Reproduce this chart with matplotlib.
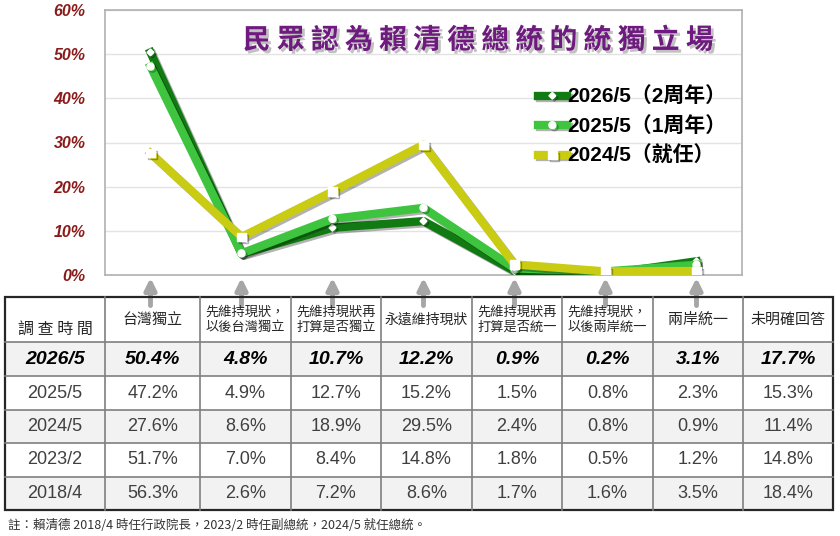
import matplotlib
matplotlib.use('Agg')
import matplotlib.pyplot as plt
import matplotlib.patheffects as pe
from matplotlib.patches import Rectangle

plt.rcParams['font.family'] = ['Liberation Sans', 'Noto Sans CJK TC', 'DejaVu Sans']

# 資料
categories = ['台灣獨立', '先維持現狀，\n以後台灣獨立', '先維持現狀再\n打算是否獨立', '永遠維持現狀',
              '先維持現狀再\n打算是否統一', '先維持現狀，\n以後兩岸統一', '兩岸統一', '未明確回答']
survey_dates = ['2026/5', '2025/5', '2024/5', '2023/2', '2018/4']
table_values = [
    [50.4, 4.8, 10.7, 12.2, 0.9, 0.2, 3.1, 17.7],
    [47.2, 4.9, 12.7, 15.2, 1.5, 0.8, 2.3, 15.3],
    [27.6, 8.6, 18.9, 29.5, 2.4, 0.8, 0.9, 11.4],
    [51.7, 7.0, 8.4, 14.8, 1.8, 0.5, 1.2, 14.8],
    [56.3, 2.6, 7.2, 8.6, 1.7, 1.6, 3.5, 18.4],
]
series_labels = ['2026/5（2周年）', '2025/5（1周年）', '2024/5（就任）']
series_colors = ['#127a12', '#3ec43e', '#c9cc12']
series_markers = ['D', 'o', 's']
marker_sizes = [3.5, 5, 6]
yticks = [0, 10, 20, 30, 40, 50, 60]
title = '民 眾 認 為 賴 清 德 總 統 的 統 獨 立 場'
note = '註：賴清德 2018/4 時任行政院長，2023/2 時任副總統，2024/5 就任總統。'

W, H = 840, 536
fig = plt.figure(figsize=(W / 100, H / 100), dpi=100)

# 線圖
ax = fig.add_axes([105 / W, 1 - 275 / H, 637 / W, 265 / H])
n = 7
xs = list(range(n))
handles = []
for i in range(3):
    vals = table_values[i][:n]
    ln, = ax.plot(xs, vals, color=series_colors[i], lw=6, solid_joinstyle='round',
                  marker=series_markers[i], markersize=marker_sizes[i],
                  markerfacecolor='white', markeredgecolor='white', zorder=3 + i,
                  path_effects=[pe.SimpleLineShadow(offset=(1.5, -1.5), alpha=0.3), pe.Normal()])
    handles.append(ln)

ax.set_xlim(-0.5, 6.5)
ax.set_ylim(0, 60)
ax.set_yticks(yticks)
ax.set_yticklabels([f'{v}%' for v in yticks], color='#8b1a1a', fontsize=11.5,
                   fontweight='bold', fontstyle='italic')
ax.set_xticks([])
ax.tick_params(axis='y', length=0, pad=14)
ax.grid(axis='y', color='#e3e3e3', lw=1)
ax.set_axisbelow(True)
for s in ax.spines.values():
    s.set_color('#b0b0b0')
    s.set_linewidth(1.2)

ax.text(0.585, 0.885, title, transform=ax.transAxes, ha='center', va='center',
        fontsize=20, fontweight='bold', color='#6e1a7e', family=['Noto Sans CJK TC'],
        path_effects=[pe.withSimplePatchShadow(offset=(2, -2), shadow_rgbFace='#999999', alpha=0.6)])

leg = ax.legend(handles, series_labels, loc='upper left', bbox_to_anchor=(0.65, 0.78),
                frameon=False, handlelength=1.4, handletextpad=0.0, labelspacing=0.45,
                prop={'size': 15, 'weight': 'bold'})

# 箭頭
for x in xs:
    ax.annotate('', xy=(x, 0), xycoords='data', xytext=(0, -22), textcoords='offset points',
                arrowprops=dict(arrowstyle='-|>', color='#a6a6a6', lw=3.5, mutation_scale=17,
                                shrinkA=0, shrinkB=2), annotation_clip=False)

# 表格
tb = fig.add_axes([0, 0, 1, 1])
tb.set_xlim(0, W)
tb.set_ylim(H, 0)
tb.axis('off')

col_edges = [5, 105, 200, 291, 381, 472, 562, 653, 743, 833]
row_edges = [297, 342, 376, 410, 443, 477, 510]

for r in range(len(survey_dates)):
    face = '#f2f2f2' if r % 2 == 0 else 'white'
    tb.add_patch(Rectangle((col_edges[0], row_edges[r + 1]), col_edges[-1] - col_edges[0],
                           row_edges[r + 2] - row_edges[r + 1], facecolor=face, edgecolor='none'))

for x in col_edges[1:-1]:
    tb.plot([x, x], [row_edges[0], row_edges[-1]], color='#7f7f7f', lw=1.2)
for y in row_edges[1:-1]:
    tb.plot([col_edges[0], col_edges[-1]], [y, y], color='#7f7f7f', lw=1.2)
tb.add_patch(Rectangle((col_edges[0], row_edges[0]), col_edges[-1] - col_edges[0],
                       row_edges[-1] - row_edges[0], facecolor='none', edgecolor='#262626', lw=1.6))

hy = (row_edges[0] + row_edges[1]) / 2
tb.text((col_edges[0] + col_edges[1]) / 2, hy + 10, '調 查 時 間', ha='center', va='center',
        fontsize=11.5, color='#262626', family=['Noto Sans CJK TC'])
for c, cat in enumerate(categories):
    cx = (col_edges[c + 1] + col_edges[c + 2]) / 2
    if '\n' in cat:
        fs = 9.5
    elif len(cat) >= 6:
        fs = 10
    else:
        fs = 10.8
    tb.text(cx, hy, cat, ha='center', va='center', fontsize=fs, color='#262626',
            family=['Noto Sans CJK TC'], linespacing=1.25)

for r, date in enumerate(survey_dates):
    cy = (row_edges[r + 1] + row_edges[r + 2]) / 2
    bold = r == 0
    kw = dict(ha='center', va='center', fontsize=14 if bold else 13,
              color='#000000' if bold else '#404040',
              fontweight='bold' if bold else 'normal',
              fontstyle='italic' if bold else 'normal')
    tb.text((col_edges[0] + col_edges[1]) / 2, cy, date, **kw)
    for c, v in enumerate(table_values[r]):
        cx = (col_edges[c + 1] + col_edges[c + 2]) / 2
        tb.text(cx, cy, f'{v:.1f}%', **kw)

tb.text(8, 525, note, ha='left', va='center', fontsize=9, color='#333333',
        family=['Noto Sans CJK TC'])

fig.savefig('out.png', dpi=100, facecolor='white')
